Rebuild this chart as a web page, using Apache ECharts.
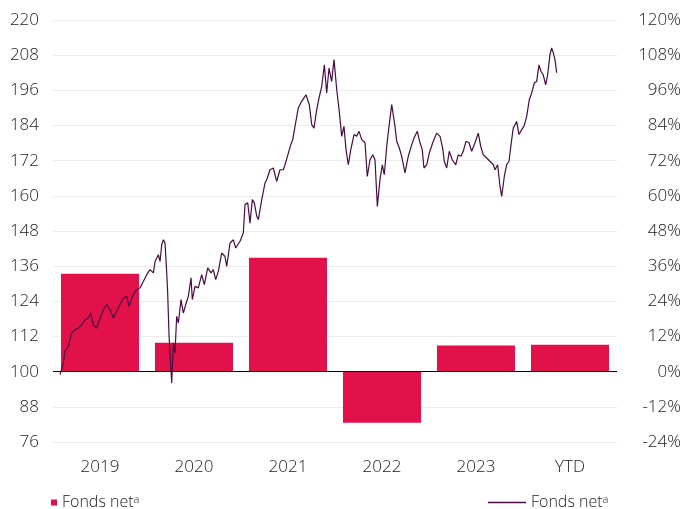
<!DOCTYPE html>
<html>
<head>
<meta charset="utf-8">
<script src="https://cdn.jsdelivr.net/npm/echarts@6/dist/echarts.min.js"></script>
<style>
  html, body { margin: 0; padding: 0; background: #fff; }
  #chart { width: 684px; height: 509px; }
</style>
</head>
<body>
<div id="chart"></div>
<script>
// calendar returns per year, in %
const categories = ['2019', '2020', '2021', '2022', '2023', 'YTD'];
const annualReturns = [33.4, 9.9, 38.9, -17.4, 8.9, 9.2];

// cumulative fund value (start = 100), x in years since start of 2019
const lineYears = [
  0.00, 0.035, 0.053, 0.088, 0.124, 0.160, 0.195, 0.231, 0.266, 0.301,
  0.327, 0.354, 0.390, 0.426, 0.461, 0.497, 0.532, 0.567, 0.603, 0.638,
  0.673, 0.710, 0.734, 0.763, 0.798, 0.851, 0.886, 0.922, 0.957, 0.993,
  1.011, 1.046, 1.064, 1.082, 1.099, 1.117, 1.135, 1.145, 1.160, 1.170,
  1.188, 1.205, 1.223, 1.241, 1.259, 1.287, 1.312, 1.337, 1.365, 1.394,
  1.407, 1.436, 1.471, 1.507, 1.535, 1.571, 1.606, 1.631, 1.656, 1.684,
  1.720, 1.755, 1.773, 1.809, 1.844, 1.869, 1.915, 1.950, 1.968, 1.997,
  2.021, 2.046, 2.067, 2.093, 2.110, 2.146, 2.181, 2.199, 2.234, 2.269,
  2.305, 2.340, 2.376, 2.394, 2.429, 2.454, 2.476, 2.500, 2.535, 2.561,
  2.596, 2.617, 2.652, 2.678, 2.702, 2.731, 2.759, 2.784, 2.812, 2.837,
  2.862, 2.890, 2.915, 2.944, 2.971, 2.997, 3.021, 3.043, 3.067, 3.093,
  3.128, 3.156, 3.181, 3.210, 3.245, 3.269, 3.298, 3.327, 3.351, 3.376,
  3.404, 3.429, 3.450, 3.476, 3.500, 3.529, 3.564, 3.582, 3.610, 3.635,
  3.670, 3.705, 3.741, 3.766, 3.801, 3.830, 3.854, 3.872, 3.901, 3.929,
  3.965, 4.007, 4.043, 4.071, 4.088, 4.114, 4.141, 4.173, 4.210, 4.237,
  4.266, 4.290, 4.319, 4.351, 4.380, 4.415, 4.450, 4.476, 4.503, 4.539,
  4.574, 4.610, 4.628, 4.656, 4.681, 4.699, 4.727, 4.752, 4.777, 4.798,
  4.822, 4.858, 4.883, 4.912, 4.936, 4.965, 4.993, 5.018, 5.046, 5.071,
  5.096, 5.117, 5.141, 5.167, 5.188, 5.213, 5.231, 5.248, 5.266, 5.284
];
const lineValues = [
  99.0, 103.0, 107.0, 108.6, 113.2, 114.3, 114.9, 116.0, 117.7, 118.3,
  120.0, 116.0, 114.9, 118.3, 121.2, 122.9, 121.2, 118.3, 120.6, 122.9,
  125.1, 125.7, 122.3, 125.1, 127.4, 128.6, 130.8, 133.1, 134.8, 133.7,
  137.6, 139.9, 137.6, 143.3, 145.0, 143.9, 133.7, 126.9, 112.0, 106.4,
  96.1, 109.8, 106.4, 118.9, 116.6, 124.6, 120.0, 122.9, 125.7, 132.0,
  124.6, 129.1, 128.6, 133.1, 129.7, 135.4, 133.7, 134.8, 131.4, 134.2,
  140.5, 139.3, 135.9, 143.9, 145.0, 142.2, 144.5, 147.3, 157.0, 157.6,
  150.7, 158.7, 157.6, 153.0, 151.9, 158.7, 164.4, 165.5, 168.9, 169.5,
  164.9, 168.9, 168.9, 170.6, 174.6, 177.4, 179.2, 183.7, 190.0, 191.7,
  193.4, 194.5, 191.1, 184.3, 183.1, 189.4, 193.9, 197.3, 204.7, 195.1,
  203.6, 199.0, 206.5, 196.2, 188.8, 180.3, 183.7, 175.7, 170.6, 175.7,
  180.9, 180.3, 182.0, 179.2, 178.1, 166.6, 172.3, 174.0, 172.3, 156.4,
  165.5, 170.6, 167.2, 176.9, 183.7, 191.1, 183.7, 178.6, 176.3, 173.5,
  167.8, 173.5, 177.4, 179.7, 182.0, 178.1, 175.7, 169.5, 170.6, 174.6,
  178.1, 181.4, 180.3, 176.3, 171.8, 169.5, 175.2, 172.3, 170.6, 174.0,
  173.5, 175.2, 178.6, 178.1, 175.2, 178.1, 181.4, 176.9, 174.0, 172.9,
  171.8, 170.6, 168.9, 170.6, 163.2, 159.8, 166.6, 170.6, 171.8, 177.4,
  183.1, 185.4, 180.9, 182.6, 183.7, 187.1, 192.8, 195.1, 198.5, 199.0,
  204.7, 202.5, 201.3, 197.9, 201.3, 208.2, 210.5, 208.8, 206.5, 202.0
];

const legendLabel = 'Fonds net';
const barColor = '#E2114A';
const lineColor = '#4A0C42';
const fontFamily = '"Open Sans", sans-serif';
const labelWeight = 300;

const chart = echarts.init(document.getElementById('chart'));

const legendRich = {
  n: { fontFamily: fontFamily, fontWeight: labelWeight, fontSize: 16, color: '#222' },
  s: { fontFamily: fontFamily, fontWeight: labelWeight, fontSize: 11, color: '#222', verticalAlign: 'top', padding: [0, 0, 6, 0] }
};

const option = {
  animation: false,
  grid: { left: 53, right: 67, top: 20, bottom: 67 },
  xAxis: [
    {
      type: 'category',
      data: categories,
      axisLine: { show: false },
      axisTick: { show: false },
      axisLabel: { color: '#222', fontSize: 17, fontWeight: labelWeight, fontFamily: fontFamily, margin: 17 }
    },
    {
      type: 'value',
      min: -0.075,
      max: 5.926,
      show: false
    }
  ],
  yAxis: [
    {
      type: 'value',
      min: 76,
      max: 220,
      interval: 12,
      axisLine: { show: false },
      axisTick: { show: false },
      splitLine: { lineStyle: { color: '#ececec', width: 1 } },
      axisLabel: { color: '#222', fontSize: 17, fontWeight: labelWeight, fontFamily: fontFamily, margin: 14 }
    },
    {
      type: 'value',
      min: -24,
      max: 120,
      interval: 12,
      position: 'right',
      axisLine: { show: false },
      axisTick: { show: false },
      splitLine: { show: false },
      axisLabel: {
        color: '#222', fontSize: 17, fontWeight: labelWeight, fontFamily: fontFamily,
        align: 'right', margin: 64,
        formatter: '{value}%'
      }
    }
  ],
  legend: [
    {
      data: ['bar'],
      left: 46,
      top: 489,
      icon: 'rect',
      itemWidth: 6,
      itemHeight: 6,
      itemGap: 6,
      formatter: () => '{n|' + legendLabel + '}{s|a}',
      textStyle: { rich: legendRich }
    },
    {
      data: ['line'],
      left: 483,
      top: 489,
      icon: 'rect',
      itemWidth: 38,
      itemHeight: 1.3,
      formatter: () => '{n|' + legendLabel + '}{s|a}',
      textStyle: { rich: legendRich }
    }
  ],
  series: [
    {
      name: 'bar',
      type: 'bar',
      xAxisIndex: 0,
      yAxisIndex: 1,
      data: annualReturns,
      barCategoryGap: '17%',
      itemStyle: { color: barColor },
      markLine: {
        silent: true,
        symbol: 'none',
        label: { show: false },
        lineStyle: { color: '#000', type: 'solid', width: 1 },
        data: [{ yAxis: 0 }]
      }
    },
    {
      name: 'line',
      type: 'line',
      xAxisIndex: 1,
      yAxisIndex: 0,
      data: lineYears.map((t, i) => [t, lineValues[i]]),
      showSymbol: false,
      symbol: 'none',
      z: 5,
      itemStyle: { color: lineColor },
      lineStyle: { color: lineColor, width: 1.2 }
    }
  ]
};

chart.setOption(option);
</script>
</body>
</html>
